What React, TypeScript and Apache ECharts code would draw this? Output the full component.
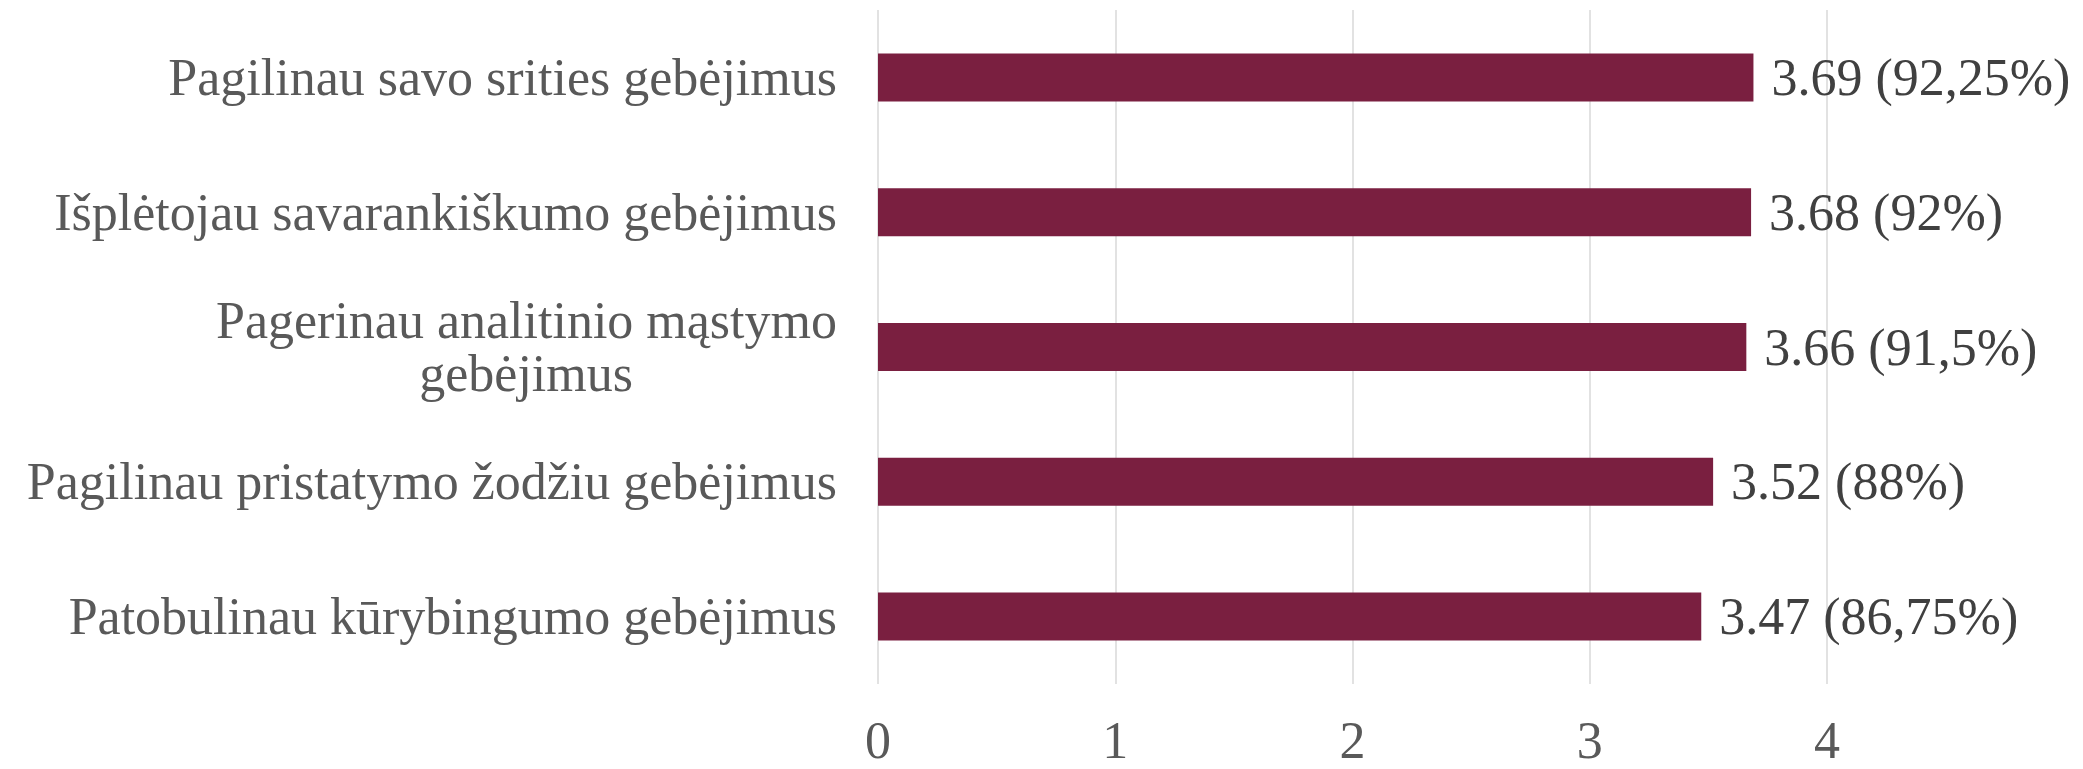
import React, { useEffect, useRef } from "react";
import * as echarts from "echarts";

const categories: string[] = [
  "Pagilinau savo srities gebėjimus",
  "Išplėtojau savarankiškumo gebėjimus",
  "Pagerinau analitinio mąstymo\ngebėjimus",
  "Pagilinau pristatymo žodžiu gebėjimus",
  "Patobulinau kūrybingumo gebėjimus",
];
const values: number[] = [3.69, 3.68, 3.66, 3.52, 3.47];
const percents: string[] = ["92,25%", "92%", "91,5%", "88%", "86,75%"];
const xTicks: number[] = [0, 1, 2, 3, 4];

const FONT = '"Liberation Serif", "Times New Roman", serif';
const FS = 52;

function measure(text: string): number {
  const c = document.createElement("canvas").getContext("2d");
  if (!c) return text.length * FS * 0.42;
  c.font = `${FS}px ${FONT}`;
  return c.measureText(text).width;
}

export default function App() {
  const ref = useRef<HTMLDivElement>(null);
  useEffect(() => {
    if (!ref.current) return;
    const chart = echarts.init(ref.current, undefined, { renderer: "svg" });
    const rich: any = {};
    categories.forEach((c) => {
      const parts = c.split("\n");
      if (parts.length > 1) {
        const pad = Math.round(Math.max(0, (measure(parts[0]) - measure(parts[1])) / 2));
        rich["p" + pad] = {
          padding: [0, pad, 0, 0],
          color: "#595959",
          fontFamily: FONT,
          fontSize: FS,
          lineHeight: 53,
        };
      }
    });
    chart.setOption({
      animation: false,
      backgroundColor: "#ffffff",
      grid: { left: 878, right: 256, top: 10, bottom: 85, containLabel: false },
      xAxis: {
        type: "value",
        min: xTicks[0],
        max: xTicks[xTicks.length - 1],
        interval: 1,
        axisLine: { show: false },
        axisTick: { show: false },
        splitLine: { show: true, lineStyle: { color: "#d9d9d9", width: 1.5 } },
        axisLabel: {
          color: "#595959",
          fontFamily: FONT,
          fontSize: FS,
          lineHeight: 52,
          margin: 30,
        },
      },
      yAxis: {
        type: "category",
        inverse: true,
        data: categories,
        axisLine: { show: false },
        axisTick: { show: false },
        axisLabel: {
          color: "#595959",
          fontFamily: FONT,
          fontSize: FS,
          lineHeight: 53,
          margin: 41,
          formatter: (v: string) => {
            const parts = v.split("\n");
            if (parts.length < 2) return v;
            const pad = Math.round(Math.max(0, (measure(parts[0]) - measure(parts[1])) / 2));
            return `${parts[0]}\n{p${pad}|${parts[1]}}`;
          },
          rich,
        },
      },
      series: [
        {
          type: "bar",
          data: values,
          barWidth: 48,
          itemStyle: { color: "#7a1f40" },
          label: {
            show: true,
            position: "right",
            distance: 18,
            color: "#404040",
            fontFamily: FONT,
            fontSize: FS,
            formatter: (p: any) => `${values[p.dataIndex].toFixed(2)} (${percents[p.dataIndex]})`,
          },
        },
      ],
    });
    return () => chart.dispose();
  }, []);
  return (
    <div
      ref={ref}
      style={{ position: "fixed", left: 0, top: 0, width: 2083, height: 769, background: "#fff" }}
    />
  );
}
